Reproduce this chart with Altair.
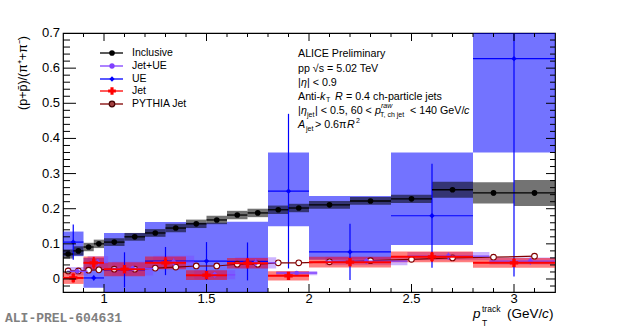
import altair as alt
import pandas as pd

# ---------------- data ----------------
inc_edges = [0.8, 0.85, 0.9, 0.95, 1.0, 1.1, 1.2, 1.3, 1.4, 1.5, 1.6, 1.7, 1.8, 1.9, 2.0, 2.2, 2.4, 2.6, 2.8, 3.0, 3.2]
inc_val = [0.071, 0.080, 0.091, 0.100, 0.105, 0.120, 0.131, 0.145, 0.157, 0.168, 0.182, 0.188, 0.197, 0.202,
           0.211, 0.222, 0.228, 0.254, 0.245, 0.245]
inc_stat = [0.004, 0.004, 0.004, 0.004, 0.003, 0.003, 0.003, 0.003, 0.003, 0.003, 0.003, 0.003, 0.004, 0.004,
            0.004, 0.004, 0.005, 0.006, 0.007, 0.008]
inc_syst = [0.013, 0.013, 0.012, 0.012, 0.011, 0.011, 0.011, 0.012, 0.012, 0.012, 0.012, 0.012, 0.012, 0.012,
            0.011, 0.011, 0.012, 0.023, 0.030, 0.037]
pythia_val = [0.023, 0.023, 0.025, 0.026, 0.028, 0.028, 0.031, 0.034, 0.037, 0.037, 0.042, 0.042, 0.046, 0.046,
              0.049, 0.052, 0.056, 0.060, 0.062, 0.065]

jet_edges = [0.8, 0.9, 1.0, 1.2, 1.4, 1.6, 1.8, 2.0, 2.4, 2.8, 3.2]
ue_val = [0.105, 0.003, 0.026, 0.051, 0.051, 0.050, 0.250, 0.077, 0.180, 0.627]
ue_stat = [0.050, 0.007, 0.050, 0.040, 0.054, 0.054, 0.220, 0.080, 0.148, 0.620]
ue_box_lo = [0.065, -0.025, -0.060, -0.060, -0.060, -0.060, 0.150, 0.055, 0.097, 0.360]
ue_box_hi = [0.135, 0.060, 0.131, 0.162, 0.160, 0.163, 0.360, 0.236, 0.360, 0.900]

jet_val = [0.003, 0.046, 0.028, 0.046, 0.011, 0.045, 0.009, 0.048, 0.063, 0.046]
jet_stat = [0.013, 0.017, 0.012, 0.017, 0.010, 0.015, 0.010, 0.012, 0.014, 0.012]
jet_syst = [0.017, 0.018, 0.020, 0.018, 0.014, 0.015, 0.013, 0.015, 0.015, 0.014]

jue_val = [0.022, 0.047, 0.030, 0.048, 0.012, 0.046, 0.017, 0.051, 0.065, 0.051]
jue_stat = [0.006, 0.010, 0.008, 0.010, 0.008, 0.010, 0.006, 0.008, 0.010, 0.010]
jue_syst = [0.012, 0.018, 0.020, 0.018, 0.013, 0.016, 0.006, 0.012, 0.012, 0.010]

legend_labels = ["Inclusive", "Jet+UE", "UE", "Jet", "PYTHIA Jet"]
x_labels = [1, 1.5, 2, 2.5, 3]
x_label_text = ["1", "1.5", "2", "2.5", "3"]
y_labels = [0, 0.1, 0.2, 0.3, 0.4, 0.5, 0.6, 0.7]
y_label_text = ["0", "0.1", "0.2", "0.3", "0.4", "0.5", "0.6", "0.7"]
x_major = [1.0, 1.5, 2.0, 2.5, 3.0]
x_minor = [0.9, 1.1, 1.2, 1.3, 1.4, 1.6, 1.7, 1.8, 1.9, 2.1, 2.2, 2.3, 2.4, 2.6, 2.7, 2.8, 2.9, 3.1]
y_major = [0.0, 0.1, 0.2, 0.3, 0.4, 0.5, 0.6]
y_minor = [-0.02, 0.02, 0.04, 0.06, 0.08, 0.12, 0.14, 0.16, 0.18, 0.22, 0.24, 0.26, 0.28, 0.32, 0.34, 0.36,
           0.38, 0.42, 0.44, 0.46, 0.48, 0.52, 0.54, 0.56, 0.58, 0.62, 0.64, 0.66, 0.68]

# ---------------- tables ----------------
W, H = 492, 259
FONT = "Liberation Sans"
C_INC, C_UE, C_JET, C_JUE, C_PY = "#000000", "#0000ff", "#ff0000", "#8040ff", "#800000"

def table(edges, val, stat, lo, hi, shift=0.0):
    rows = []
    for i, v in enumerate(val):
        a, b = edges[i], edges[i + 1]
        s = shift * (b - a)
        rows.append(dict(x0=a + s, x1=b + s, xc=(a + b) / 2 + s, y=v,
                         slo=v - stat[i], shi=v + stat[i], blo=lo[i], bhi=hi[i]))
    return pd.DataFrame(rows)

inc = table(inc_edges, inc_val, inc_stat,
            [v - s for v, s in zip(inc_val, inc_syst)], [v + s for v, s in zip(inc_val, inc_syst)])
ue = table(jet_edges, ue_val, ue_stat, ue_box_lo, ue_box_hi)
jet = table(jet_edges, jet_val, jet_stat,
            [v - s for v, s in zip(jet_val, jet_syst)], [v + s for v, s in zip(jet_val, jet_syst)])
jue = table(jet_edges, jue_val, jue_stat,
            [v - s for v, s in zip(jue_val, jue_syst)], [v + s for v, s in zip(jue_val, jue_syst)], shift=0.2)
py = pd.DataFrame({"xc": [(inc_edges[i] + inc_edges[i + 1]) / 2 for i in range(len(pythia_val))],
                   "y": pythia_val})

xs = alt.Scale(domain=[0.8, 3.2], nice=False, zero=False)
ys = alt.Scale(domain=[-0.037, 0.7], nice=False, zero=False)

def X(f):
    return alt.X(f, type="quantitative", scale=xs, axis=None)

def Y(f):
    return alt.Y(f, type="quantitative", scale=ys, axis=None)

layers = []

def boxes(df, color, op):
    return alt.Chart(df).mark_rect(color=color, opacity=op, clip=True).encode(
        x=X("x0"), x2="x1", y=Y("blo"), y2="bhi")

def errs(df, color, sw):
    h = alt.Chart(df).mark_rule(color=color, strokeWidth=sw, clip=True).encode(x=X("x0"), x2="x1", y=Y("y"))
    v = alt.Chart(df).mark_rule(color=color, strokeWidth=sw, clip=True).encode(x=X("xc"), y=Y("slo"), y2="shi")
    return [h, v]

layers.append(boxes(ue, C_UE, 0.55))
layers.append(boxes(inc, C_INC, 0.55))
layers.append(boxes(jue, C_JUE, 0.4))
layers.append(boxes(jet, C_JET, 0.5))

layers += errs(ue, C_UE, 1.2)
layers.append(alt.Chart(ue).mark_point(shape="diamond", filled=True, color=C_UE, size=28, opacity=1, clip=True)
              .encode(x=X("xc"), y=Y("y")))
layers += errs(inc, C_INC, 1.3)
layers.append(alt.Chart(inc).mark_point(shape="circle", filled=True, color=C_INC, size=32, opacity=1, clip=True)
              .encode(x=X("xc"), y=Y("y")))
layers.append(alt.Chart(py).mark_line(color=C_PY, strokeWidth=1.2, clip=True).encode(x=X("xc"), y=Y("y")))
layers.append(alt.Chart(py).mark_point(shape="circle", fill="white", stroke=C_PY, strokeWidth=1.1, size=32,
                                       opacity=1, fillOpacity=1, clip=True).encode(x=X("xc"), y=Y("y")))
layers += errs(jue, C_JUE, 1.3)
layers.append(alt.Chart(jue).mark_point(shape="circle", filled=True, color=C_JUE, size=22, opacity=1, clip=True)
              .encode(x=X("xc"), y=Y("y")))
layers += errs(jet, C_JET, 2.0)
layers.append(alt.Chart(jet).mark_point(shape="cross", filled=True, color=C_JET, size=70, opacity=1, clip=True)
              .encode(x=X("xc"), y=Y("y")))

# ---------------- frame ticks (inward, ROOT style) ----------------
def xticks(vals, ln):
    d = pd.DataFrame({"v": vals})
    b = alt.Chart(d).mark_rule(color="black", strokeWidth=1).encode(x=X("v"), y=alt.value(H), y2=alt.value(H - ln))
    t = alt.Chart(d).mark_rule(color="black", strokeWidth=1).encode(x=X("v"), y=alt.value(0), y2=alt.value(ln))
    return [b, t]

def yticks(vals, ln_l, ln_r):
    d = pd.DataFrame({"v": vals})
    l = alt.Chart(d).mark_rule(color="black", strokeWidth=1).encode(y=Y("v"), x=alt.value(0), x2=alt.value(ln_l))
    r = alt.Chart(d).mark_rule(color="black", strokeWidth=1).encode(y=Y("v"), x=alt.value(W - ln_r), x2=alt.value(W))
    return [l, r]

layers += xticks(x_major, 8) + xticks(x_minor, 4)
layers += yticks(y_major, 13, 9) + yticks(y_minor, 7, 5)

# tick labels
xl = pd.DataFrame({"v": x_labels, "t": x_label_text})
layers.append(alt.Chart(xl).mark_text(align="center", baseline="top", fontSize=13, font=FONT, color="black")
              .encode(x=X("v"), y=alt.value(H + 1), text="t:N"))
yl = pd.DataFrame({"v": y_labels, "t": y_label_text})
layers.append(alt.Chart(yl).mark_text(align="right", baseline="middle", fontSize=13, font=FONT, color="black")
              .encode(y=Y("v"), x=alt.value(-3), text="t:N"))

# ---------------- text helpers (pixel positions inside the plot area) ----------------
one = pd.DataFrame({"a": [0]})

def txt(s, x, y, size=10.7, italic=False, align="left", color="black", font=FONT, angle=None, weight=None):
    kw = dict(text=s, align=align, baseline="middle", fontSize=size, font=font, color=color)
    if italic:
        kw["fontStyle"] = "italic"
    if angle is not None:
        kw["angle"] = angle
    if weight is not None:
        kw["fontWeight"] = weight
    return alt.Chart(one).mark_text(**kw).encode(x=alt.value(x), y=alt.value(y))

OX, OY = 63, 33  # plot origin in page pixels

def T(s, ax, ay, **kw):
    return txt(s, ax - OX, ay - OY, **kw)

# legend
leg_colors = [C_INC, C_JUE, C_UE, C_JET, C_PY]
leg_rows = [53, 66, 79, 91, 104]
for lab, col, ry in zip(legend_labels, leg_colors, leg_rows):
    layers.append(alt.Chart(one).mark_rule(color=col, strokeWidth=1.3).encode(
        x=alt.value(100 - OX), x2=alt.value(123 - OX), y=alt.value(ry - OY)))
    if lab == "Inclusive":
        mk = alt.Chart(one).mark_point(shape="circle", filled=True, color=col, size=32, opacity=1)
    elif lab == "Jet+UE":
        mk = alt.Chart(one).mark_point(shape="circle", filled=True, color=col, size=28, opacity=1)
    elif lab == "UE":
        mk = alt.Chart(one).mark_point(shape="diamond", filled=True, color=col, size=28, opacity=1)
    elif lab == "Jet":
        mk = alt.Chart(one).mark_point(shape="cross", filled=True, color=col, size=60, opacity=1)
    else:
        mk = alt.Chart(one).mark_point(shape="circle", fill="#a04040", stroke="#400000", strokeWidth=1.1,
                                       size=32, opacity=1, fillOpacity=1)
    layers.append(mk.encode(x=alt.value(112 - OX), y=alt.value(ry - OY)))
    layers.append(T(lab, 132, ry, size=10.5))

# physics annotation block
layers.append(T("ALICE Preliminary", 298, 54))
layers.append(T("pp √s = 5.02 TeV", 298, 69))
layers.append(T("|", 298, 83))
layers.append(T("η", 301, 83, italic=True))
layers.append(T("| < 0.9", 307, 83))
layers.append(T("Anti-", 298, 97))
layers.append(T("k", 320, 97, italic=True))
layers.append(T("T", 326, 100, size=7))
layers.append(T("R", 335, 97, italic=True))
layers.append(T("= 0.4 ch-particle jets", 346, 97))
layers.append(T("|", 298, 111))
layers.append(T("η", 301, 111, italic=True))
layers.append(T("jet", 307, 115, size=7))
layers.append(T("| < 0.5, 60 <", 315, 111))
layers.append(T("p", 375, 111, italic=True))
layers.append(T("raw", 381, 106, size=7, italic=True))
layers.append(T("T, ch jet", 380, 115, size=7))
layers.append(T("< 140 GeV/", 410, 111))
layers.append(T("c", 464, 111, italic=True))
layers.append(T("A", 298, 125, italic=True))
layers.append(T("jet", 306, 129, size=7))
layers.append(T("> 0.6π", 315, 125))
layers.append(T("R", 347, 125, italic=True))
layers.append(T("2", 356, 121, size=7))

# axis titles
layers.append(T("(p+p̄)/(π⁺+π⁻)", 23, 73, size=12.5, align="center", angle=270))
layers.append(T("p", 473, 314, size=13.5, italic=True))
layers.append(T("track", 482, 309, size=8.5))
layers.append(T("T", 482, 322.5, size=8.5))
layers.append(T("(GeV/", 507, 314, size=13.5))
layers.append(T("c", 542, 314, size=13.5, italic=True))
layers.append(T(")", 549, 314, size=13.5))

# preliminary tag
layers.append(T("ALI-PREL-604631", 5, 318, size=13, color="#808080", font="Liberation Mono", weight="bold"))

chart = alt.layer(*layers).properties(
    width=W, height=H,
    padding={"left": OX, "top": OY, "right": 620 - OX - W, "bottom": 328 - OY - H},
    autosize=alt.AutoSizeParams(type="none"),
).configure_view(stroke="black", strokeWidth=1.2)

chart.save("out.html", embed_options={"renderer": "svg", "actions": False})
